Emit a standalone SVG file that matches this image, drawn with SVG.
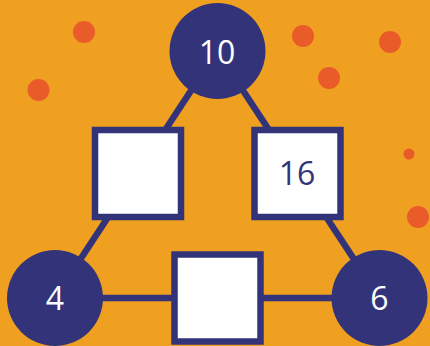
<svg xmlns="http://www.w3.org/2000/svg" width="430" height="346" viewBox="0 0 430 346">
<style>
.dot{fill:#E95B29}
.circ{fill:#33337A}
.box{fill:#FFFFFF;stroke:#33337A;stroke-width:6.5}
.edge{stroke:#33337A;stroke-width:6.5;fill:none}
.wt{font-family:"Open Sans","Noto Sans",sans-serif;font-size:32px;fill:#FFFFFF;text-anchor:middle}
.bt{font-family:"Open Sans","Noto Sans",sans-serif;font-size:32px;fill:#33337A;text-anchor:middle}
</style>
<rect x="0" y="0" width="430" height="346" fill="#F0A020"/>
<g id="dots">
<circle class="dot" cx="84" cy="32" r="11"/>
<circle class="dot" cx="38.5" cy="90" r="11"/>
<circle class="dot" cx="303" cy="36" r="11"/>
<circle class="dot" cx="390" cy="42" r="11"/>
<circle class="dot" cx="329" cy="78" r="11"/>
<circle class="dot" cx="409" cy="154" r="5.5"/>
<circle class="dot" cx="418" cy="217" r="11"/>
</g>
<g id="connectors">
<line class="edge" x1="217" y1="51" x2="55" y2="298"/>
<line class="edge" x1="217" y1="51" x2="379.5" y2="298"/>
<line class="edge" x1="55" y1="298" x2="379.5" y2="298"/>
</g>
<g id="node-top">
<circle class="circ" cx="217.5" cy="51" r="48"/>
<text class="wt" x="217" y="64">10</text>
</g>
<g id="node-left">
<circle class="circ" cx="55" cy="298" r="48"/>
<text class="wt" x="55" y="310">4</text>
</g>
<g id="node-right">
<circle class="circ" cx="379.5" cy="298" r="48"/>
<text class="wt" x="379.5" y="310">6</text>
</g>
<g id="box-left">
<rect class="box" x="95" y="130" width="86" height="87"/>
</g>
<g id="box-right">
<rect class="box" x="254.5" y="130" width="86" height="87"/>
<text class="bt" x="297" y="185">16</text>
</g>
<g id="box-bottom">
<rect class="box" x="174.5" y="254.5" width="86" height="87"/>
</g>
</svg>
